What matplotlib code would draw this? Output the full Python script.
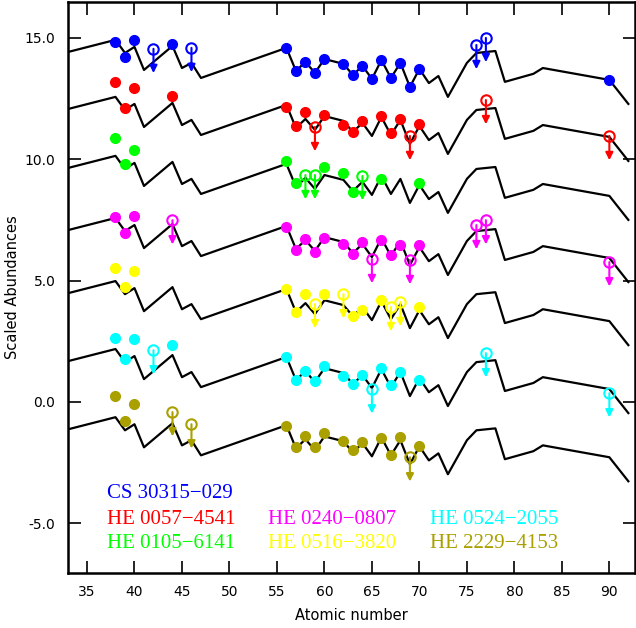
import matplotlib
matplotlib.use("Agg")
import matplotlib.pyplot as plt

# scaled solar r-process pattern (drawn for CS 30315-029, shifted for the others)
solar_z = [33, 38, 39, 40, 41, 42, 44, 45, 46, 47, 56, 57, 58, 59, 60, 62, 63, 64,
           65, 66, 67, 68, 69, 70, 71, 72, 73, 75, 76, 77, 78, 79, 82, 83, 90, 92]
solar_ab = [14.42, 14.92, 14.38, 14.63, 13.68, 14.01, 14.67, 13.76, 13.97, 13.35,
            14.59, 13.64, 14.01, 13.56, 14.13, 13.93, 13.47, 13.85, 13.31, 14.09,
            13.35, 13.97, 12.98, 13.72, 13.14, 13.43, 12.57, 13.97, 14.38, 14.42,
            14.46, 13.19, 13.52, 13.76, 13.27, 12.28]

star_names = ["CS 30315\u2212029", "HE 0057\u22124541", "HE 0105\u22126141",
              "HE 0240\u22120807", "HE 0516\u22123820", "HE 0524\u22122055",
              "HE 2229\u22124153"]
star_colors = ["#0000ff", "#ff0000", "#00ff00", "#ff00ff", "#ffff00", "#00ffff", "#aaa000"]
pattern_shift = [0.0, -2.35, -4.78, -7.34, -9.94, -12.74, -15.55]

# detections
cs30315_z = [38, 39, 40, 44, 56, 57, 58, 59, 60, 62, 63, 64, 65, 66, 67, 68, 69, 70, 90]
cs30315_ab = [14.84, 14.22, 14.92, 14.75, 14.59, 13.64, 14.01, 13.56, 14.13, 13.93,
              13.47, 13.85, 13.31, 14.09, 13.35, 13.97, 12.98, 13.72, 13.27]
he0057_z = [38, 39, 40, 44, 56, 57, 58, 60, 62, 63, 64, 66, 67, 68, 70]
he0057_ab = [13.19, 12.11, 12.94, 12.61, 12.15, 11.37, 11.95, 11.82, 11.41, 11.12,
             11.58, 11.78, 11.08, 11.66, 11.45]
he0105_z = [38, 39, 40, 56, 57, 60, 62, 63, 66, 70]
he0105_ab = [10.88, 9.81, 10.38, 9.93, 9.02, 9.68, 9.43, 8.65, 9.19, 9.02]
he0240_z = [38, 39, 40, 56, 57, 58, 59, 60, 62, 63, 64, 66, 67, 68, 70]
he0240_ab = [7.62, 6.96, 7.66, 7.21, 6.26, 6.71, 6.18, 6.75, 6.51, 6.09, 6.59, 6.67,
             6.05, 6.46, 6.46]
he0516_z = [38, 39, 40, 56, 57, 58, 60, 63, 64, 66, 70]
he0516_ab = [5.52, 4.74, 5.39, 4.66, 3.70, 4.44, 4.44, 3.54, 3.78, 4.20, 3.91]
he0524_z = [38, 39, 40, 44, 56, 57, 58, 59, 60, 62, 63, 64, 66, 67, 68, 70]
he0524_ab = [2.63, 1.77, 2.59, 2.34, 1.85, 0.90, 1.27, 0.86, 1.47, 1.06, 0.73, 1.11,
             1.39, 0.69, 1.23, 0.90]
he2229_z = [38, 39, 40, 56, 57, 58, 59, 60, 62, 63, 64, 66, 67, 68, 70]
he2229_ab = [0.24, -0.79, -0.08, -0.99, -1.86, -1.41, -1.86, -1.29, -1.62, -1.99,
             -1.66, -1.49, -2.20, -1.45, -1.82]

# upper limits
cs30315_lim_z = [42, 46, 76, 77]
cs30315_lim = [14.55, 14.59, 14.71, 15.00]
he0057_lim_z = [59, 69, 77, 90]
he0057_lim = [11.33, 10.96, 12.44, 10.96]
he0105_lim_z = [58, 59, 64]
he0105_lim = [9.35, 9.35, 9.31]
he0240_lim_z = [44, 65, 69, 76, 77, 90]
he0240_lim = [7.49, 5.89, 5.85, 7.29, 7.49, 5.76]
he0516_lim_z = [59, 62, 67, 68]
he0516_lim = [4.03, 4.44, 3.91, 4.12]
he0524_lim_z = [42, 65, 77, 90]
he0524_lim = [2.13, 0.52, 2.01, 0.36]
he2229_lim_z = [44, 46, 69]
he2229_lim = [-0.42, -0.92, -2.28]

det_z = [cs30315_z, he0057_z, he0105_z, he0240_z, he0516_z, he0524_z, he2229_z]
det_ab = [cs30315_ab, he0057_ab, he0105_ab, he0240_ab, he0516_ab, he0524_ab, he2229_ab]
lim_z = [cs30315_lim_z, he0057_lim_z, he0105_lim_z, he0240_lim_z, he0516_lim_z,
         he0524_lim_z, he2229_lim_z]
lim_ab = [cs30315_lim, he0057_lim, he0105_lim, he0240_lim, he0516_lim, he0524_lim,
          he2229_lim]

W, H = 636, 628
fig = plt.figure(figsize=(W / 100, H / 100), dpi=100)
ax = fig.add_axes([68 / W, 1 - 573 / H, (635 - 68) / W, (573 - 2) / H])

for i in range(len(star_names)):
    col = star_colors[i]
    shifted = [v + pattern_shift[i] for v in solar_ab]
    ax.plot(solar_z, shifted, color="black", lw=1.6, zorder=2)
    ax.plot(det_z[i], det_ab[i], "o", color=col, ms=7, mec=col, zorder=3)
    ax.plot(lim_z[i], lim_ab[i], "o", mfc="none", mec=col, mew=1.5, ms=7.5, zorder=3)
    for z, v in zip(lim_z[i], lim_ab[i]):
        ax.annotate("", xy=(z, v - 1.0), xytext=(z, v),
                    arrowprops=dict(arrowstyle="-|>", color=col, lw=1.5,
                                    mutation_scale=11, shrinkA=0, shrinkB=0),
                    zorder=3)

ax.set_xlim(33, 92.7)
ax.set_ylim(-7.05, 16.48)
ax.set_xticks(range(35, 91, 5))
ax.set_yticks([-5, 0, 5, 10, 15])
ax.set_yticklabels(["%.1f" % t for t in [-5, 0, 5, 10, 15]])
ax.tick_params(direction="in", length=9, width=1.2, top=True, right=True,
               labelsize=10, pad=9)
for s in ax.spines.values():
    s.set_linewidth(1.8)

ax.set_xlabel("Atomic number", fontsize=10.5, labelpad=6)
ax.set_ylabel("Scaled Abundances", fontsize=10.5)
ax.yaxis.set_label_coords((20 - 68) / 567, 0.5)

# star labels
label_x = [107, 107, 107, 268, 268, 430, 430]
label_y = [494, 519, 543, 519, 543, 519, 543]
for i in range(len(star_names)):
    fig.text(label_x[i] / W, 1 - label_y[i] / H, star_names[i], color=star_colors[i],
             family="Liberation Serif", fontsize=15, va="center", ha="left")

fig.savefig("out.png", dpi=100)
